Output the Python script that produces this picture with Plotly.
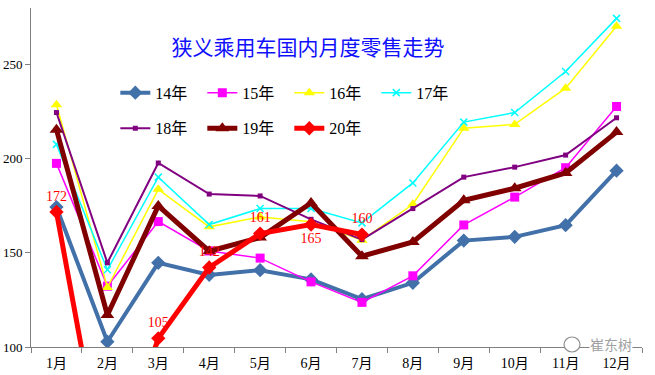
import plotly.graph_objects as go

months = ["1月", "2月", "3月", "4月", "5月", "6月", "7月", "8月", "9月", "10月", "11月", "12月"]

y14 = [174.3, 102.8, 144.7, 138.3, 140.8, 135.9, 125.4, 134.1, 156.5, 158.5, 164.7, 193.6]
y15 = [197.5, 132.3, 166.6, 151.0, 147.2, 134.6, 123.7, 137.8, 164.8, 179.6, 195.2, 227.7]
y16 = [228.6, 131.6, 183.7, 163.8, 169.0, 166.5, 156.7, 175.8, 216.2, 218.2, 237.4, 270.3]
y17 = [207.6, 141.0, 190.2, 165.0, 173.5, 173.5, 165.9, 187.1, 219.4, 224.5, 246.3, 274.5]
y18 = [224.5, 144.7, 197.7, 181.2, 180.2, 167.8, 157.0, 173.5, 190.2, 195.5, 201.9, 221.7]
y19 = [215.4, 117.0, 174.9, 150.9, 158.1, 176.5, 148.2, 155.8, 177.9, 184.3, 192.4, 214.1]
y20 = [171.7, 25.1, 104.6, 142.2, 160.2, 165.0, 159.7]
labels20 = ["172", "", "105", "142", "161", "165", "160"]
label_pos20 = ["top center", "top center", "top center", "top center", "top center", "bottom center", "top center"]

title_text = "狭义乘用车国内月度零售走势"
watermark = "崔东树"

fig = go.Figure()

def add(name, y, color, width, symbol, size, legend, text=None, textpos=None):
    fig.add_trace(go.Scatter(
        x=months[:len(y)], y=y, name=name, mode="lines+markers" + ("+text" if text else ""),
        line=dict(color=color, width=width),
        marker=dict(symbol=symbol, size=size, color=color, line=dict(width=0)),
        text=text, textposition=textpos,
        textfont=dict(color="#FF0000", size=14, family="Liberation Serif"),
        legend=legend, cliponaxis=True,
    ))

add("14年", y14, "#4270A8", 4, "diamond", 11, "legend")
add("15年", y15, "#FF00FF", 1.5, "square", 9, "legend")
add("16年", y16, "#FFFF00", 1.5, "triangle-up", 10, "legend")
add("17年", y17, "#00FFFF", 1.5, "x-thin-open", 7, "legend")
fig.data[-1].marker.line = dict(width=1.5, color="#00FFFF")
add("18年", y18, "#800080", 2, "square", 5, "legend2")
add("19年", y19, "#800000", 5, "triangle-up", 12, "legend2")
add("20年", y20, "#FF0000", 5, "diamond", 11, "legend2", labels20, label_pos20)

legend_common = dict(
    orientation="h", xanchor="left", yanchor="middle",
    font=dict(family="Liberation Serif, Noto Sans CJK SC", size=16, color="black"),
    bgcolor="rgba(0,0,0,0)", entrywidth=42, entrywidthmode="pixels",
    itemclick=False, itemdoubleclick=False,
)

fig.update_layout(
    width=655, height=375,
    margin=dict(l=31, r=13, t=8, b=28, autoexpand=False),
    paper_bgcolor="white", plot_bgcolor="white",
    showlegend=True,
    legend=dict(x=0.138, y=0.75, **legend_common),
    legend2=dict(x=0.138, y=0.645, **legend_common),
    title=dict(text=title_text, x=(308 - 31) / 611, y=1 - 48 / 375, xref="paper", yref="container",
               xanchor="center", yanchor="middle", automargin=False,
               font=dict(family="Noto Sans CJK SC", size=21, color="#1010FF")),
    xaxis=dict(
        type="category", range=[-0.5, 11.5], tickson="boundaries",
        ticks="outside", ticklen=5, tickcolor="#808080", automargin=False,
        ticklabelstandoff=3,
        showline=True, linecolor="#808080", linewidth=1,
        showgrid=False, zeroline=False,
        tickfont=dict(family="Liberation Serif, Noto Sans CJK SC", size=14, color="black"),
    ),
    yaxis=dict(
        range=[100, 280], tickvals=[100, 150, 200, 250],
        ticks="outside", ticklen=5, tickcolor="#808080", automargin=False,
        showline=True, linecolor="#808080", linewidth=1,
        showgrid=False, zeroline=False,
        tickfont=dict(family="Liberation Serif", size=13, color="black"),
    ),
)

fig.add_annotation(text=watermark, xref="paper", yref="paper",
                   x=(611 - 31) / 611, y=(347 - 344) / 339, showarrow=False,
                   xanchor="center", yanchor="middle", borderpad=0,
                   font=dict(family="Noto Sans CJK SC", size=14, color="#A0A0A0"),
                   bgcolor="white")
fig.add_shape(type="circle", xref="paper", yref="paper",
              x0=(564 - 31) / 611, x1=(580 - 31) / 611,
              y0=(347 - 337) / 339, y1=(347 - 352) / 339,
              line=dict(color="#909090", width=1.2), fillcolor="white", layer="above")

fig.write_html("out.html", config={"displayModeBar": False},
               post_script="document.body.style.margin='0';document.body.style.overflow='hidden';")
